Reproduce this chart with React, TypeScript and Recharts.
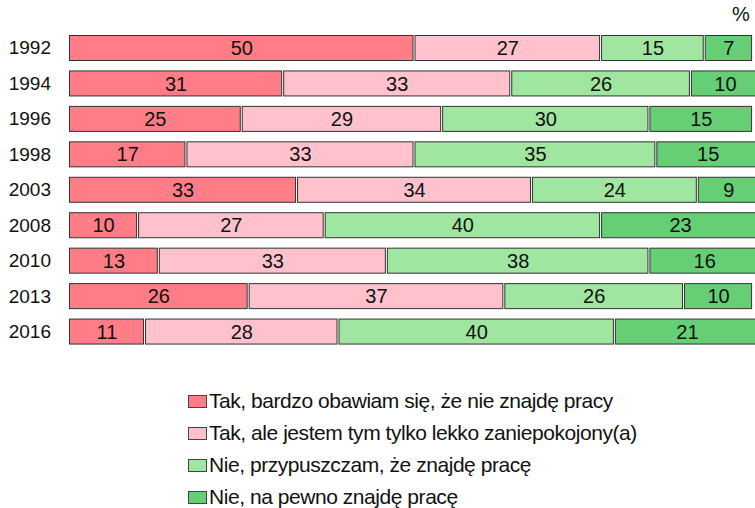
import { BarChart, Bar, XAxis, YAxis, LabelList } from 'recharts';

const years = ['1992', '1994', '1996', '1998', '2003', '2008', '2010', '2013', '2016'];
const veryWorried = [50, 31, 25, 17, 33, 10, 13, 26, 11];
const slightlyWorried = [27, 33, 29, 33, 34, 27, 33, 37, 28];
const probablyFind = [15, 26, 30, 35, 24, 40, 38, 26, 40];
const surelyFind = [7, 10, 15, 15, 9, 23, 16, 10, 21];

const seriesNames = [
  'Tak, bardzo obawiam się, że nie znajdę pracy',
  'Tak, ale jestem tym tylko lekko zaniepokojony(a)',
  'Nie, przypuszczam, że znajdę pracę',
  'Nie, na pewno znajdę pracę',
];

const colors = ['#ff7d87', '#ffc2cc', '#a0e6a0', '#66ce74'];
const keys = ['a', 'b', 'c', 'd'];

const data = years.map((y, i) => ({
  year: y,
  a: veryWorried[i],
  b: slightlyWorried[i],
  c: probablyFind[i],
  d: surelyFind[i],
}));

const FONT = '"Liberation Sans", Arial, sans-serif';

// each segment drawn a little narrower so a thin white gap shows between them
function Segment(props: any) {
  const { x, y, width, height, fill } = props;
  if (!width || width <= 0) return null;
  return (
    <rect
      x={x + 0.5}
      y={y + 0.5}
      width={Math.max(width - 2, 0)}
      height={height - 1}
      fill={fill}
      stroke="#333"
      strokeWidth={1}
    />
  );
}

function LegendBox() {
  return (
    <div
      style={{
        position: 'absolute',
        left: 188,
        top: 385,
        fontFamily: FONT,
        fontSize: 21,
        color: '#111',
        letterSpacing: -0.45,
        whiteSpace: 'nowrap',
      }}
    >
      {seriesNames.map((n, i) => (
        <div key={n} style={{ display: 'flex', alignItems: 'center', height: 32 }}>
          <span
            style={{
              display: 'inline-block',
              width: 19,
              height: 13,
              background: colors[i],
              border: '1px solid #444',
              marginRight: 2,
              boxSizing: 'border-box',
            }}
          />
          <span>{n}</span>
        </div>
      ))}
    </div>
  );
}

export default function App() {
  return (
    <div
      style={{
        position: 'absolute',
        left: 0,
        top: 0,
        width: 755,
        height: 508,
        overflow: 'hidden',
        background: '#fff',
      }}
    >
      <div
        style={{ position: 'absolute', left: 732, top: 3, fontFamily: FONT, fontSize: 20, color: '#111' }}
      >
        %
      </div>
      <BarChart
        width={760}
        height={508}
        data={data}
        layout="vertical"
        margin={{ top: 30, right: 0, bottom: 159, left: 0 }}
        barSize={26}
      >
        <XAxis type="number" domain={[0, 100]} hide />
        <YAxis
          type="category"
          dataKey="year"
          width={69}
          interval={0}
          axisLine={false}
          tickLine={false}
          tick={{ fontSize: 19, fill: '#111', fontFamily: FONT, dx: -10 }}
        />
        {keys.map((k, i) => (
          <Bar
            key={k}
            dataKey={k}
            name={seriesNames[i]}
            stackId="s"
            fill={colors[i]}
            shape={<Segment />}
            isAnimationActive={false}
          >
            <LabelList
              dataKey={k}
              position="center"
              style={{ fontSize: 20, fill: '#111', fontFamily: FONT }}
            />
          </Bar>
        ))}
      </BarChart>
      <LegendBox />
    </div>
  );
}
